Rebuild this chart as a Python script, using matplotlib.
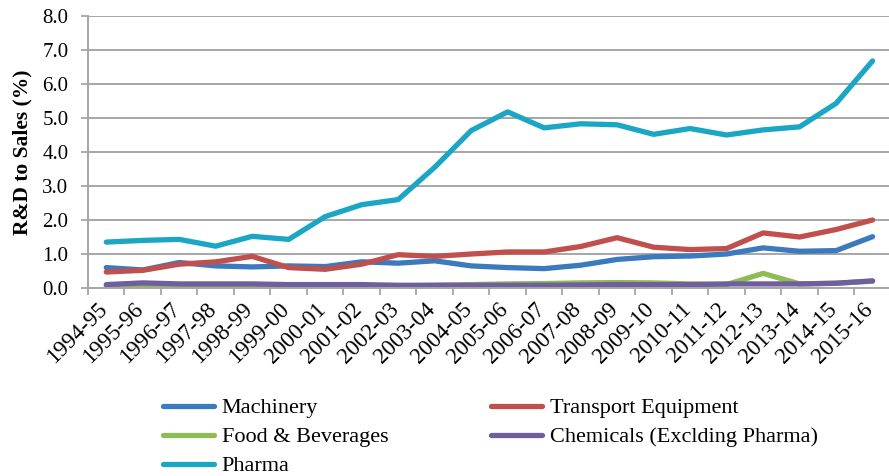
import matplotlib
matplotlib.use("Agg")
import matplotlib.pyplot as plt
import matplotlib.transforms as mtransforms
from matplotlib.ticker import MultipleLocator, FixedLocator

years = ["1994-95", "1995-96", "1996-97", "1997-98", "1998-99", "1999-00", "2000-01",
         "2001-02", "2002-03", "2003-04", "2004-05", "2005-06", "2006-07", "2007-08",
         "2008-09", "2009-10", "2010-11", "2011-12", "2012-13", "2013-14", "2014-15", "2015-16"]
machinery = [0.60, 0.53, 0.75, 0.65, 0.62, 0.65, 0.63, 0.77, 0.73, 0.80, 0.65, 0.60,
             0.57, 0.67, 0.84, 0.92, 0.94, 1.00, 1.18, 1.08, 1.10, 1.51]
transport = [0.47, 0.52, 0.70, 0.77, 0.93, 0.60, 0.55, 0.70, 0.98, 0.93, 1.00, 1.06,
             1.06, 1.22, 1.48, 1.20, 1.13, 1.16, 1.62, 1.50, 1.72, 2.00]
food = [0.05, 0.06, 0.06, 0.06, 0.07, 0.06, 0.06, 0.06, 0.06, 0.08, 0.10, 0.12,
        0.13, 0.15, 0.16, 0.15, 0.12, 0.10, 0.43, 0.12, 0.14, 0.20]
chemicals = [0.10, 0.15, 0.12, 0.12, 0.12, 0.10, 0.10, 0.10, 0.08, 0.08, 0.08, 0.08,
             0.08, 0.09, 0.10, 0.10, 0.10, 0.12, 0.12, 0.12, 0.14, 0.21]
pharma = [1.35, 1.40, 1.43, 1.23, 1.52, 1.43, 2.10, 2.45, 2.60, 3.55, 4.63, 5.18,
          4.71, 4.83, 4.80, 4.52, 4.69, 4.50, 4.65, 4.74, 5.43, 6.68]

series = [
    ("Machinery", machinery, "#3b7abd"),
    ("Transport Equipment", transport, "#c0504d"),
    ("Food & Beverages", food, "#8fbb55"),
    ("Chemicals (Exclding Pharma)", chemicals, "#6f5f9e"),
    ("Pharma", pharma, "#1aa6c4"),
]

plt.rcParams['font.family'] = ['Liberation Serif', 'DejaVu Serif']

fig = plt.figure(figsize=(8.89, 4.76), dpi=100)
ax = fig.add_axes([88/889, 1-288/476, (889-88)/889, (288-16)/476])

x = list(range(len(years)))
handles = {}
for name, vals, col in series:
    h, = ax.plot(x, vals, color=col, lw=3.8, label=name, solid_capstyle='round', solid_joinstyle='round')
    handles[name] = h

ax.set_ylim(0, 8)
ax.set_xlim(-0.5, 21.45)
ax.yaxis.set_major_locator(MultipleLocator(1))
ax.yaxis.set_major_formatter(matplotlib.ticker.FormatStrFormatter('%.1f'))
ax.grid(axis='y', color='#a6a6a6', lw=1.4)
ax.set_axisbelow(True)

ax.set_xticks(x)
ax.set_xticklabels([])
ax.tick_params(axis='x', which='major', length=0)
ax.xaxis.set_minor_locator(FixedLocator([i - 0.5 for i in range(len(years) + 1)]))
ax.tick_params(axis='x', which='minor', length=5, color='#a6a6a6', width=1.3)
ax.tick_params(axis='y', length=5, color='#a6a6a6', width=1.3, labelsize=15, pad=9)

base = mtransforms.blended_transform_factory(ax.transData, ax.transAxes)
off = mtransforms.ScaledTranslation(-10/100, -11/100, fig.dpi_scale_trans)
for i, lab in enumerate(years):
    ax.text(i, 0, lab, transform=base + off, rotation=45, ha='right', va='top',
            rotation_mode='anchor', fontsize=16.5, clip_on=False)

for s in ['top', 'right']:
    ax.spines[s].set_visible(False)
for s in ['left', 'bottom']:
    ax.spines[s].set_color('#a6a6a6')
    ax.spines[s].set_linewidth(1.4)

ax.set_ylabel("R&D to Sales (%)", fontsize=15.5, fontweight='bold', labelpad=7)

order = ["Machinery", "Food & Beverages", "Pharma", "Transport Equipment", "Chemicals (Exclding Pharma)"]
fig.legend(handles=[handles[n] for n in order], loc='upper left', bbox_to_anchor=(154/889, 1-389/476),
           ncol=2, frameon=False, fontsize=16, handlelength=2.3, handletextpad=0.35,
           columnspacing=4.63, labelspacing=0.38, borderaxespad=0)

fig.savefig("out.png", dpi=100)
